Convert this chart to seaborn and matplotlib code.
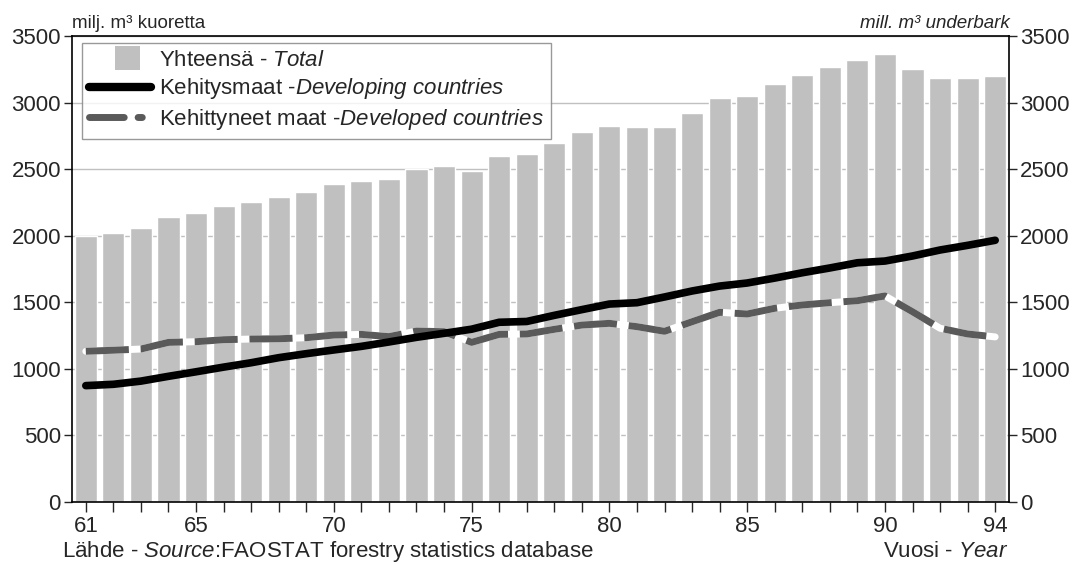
import numpy as np
import pandas as pd
import matplotlib
matplotlib.use("Agg")
import matplotlib.pyplot as plt
from matplotlib.lines import Line2D
from matplotlib.patches import Rectangle
from matplotlib.legend_handler import HandlerPatch
import seaborn as sns

# Data (million m3 underbark)
years = list(range(61, 95))
total = [2000, 2023, 2056, 2138, 2171, 2221, 2253, 2291, 2331, 2388,
         2414, 2424, 2501, 2524, 2486, 2599, 2611, 2694, 2781, 2824,
         2819, 2814, 2924, 3032, 3052, 3140, 3210, 3265, 3320, 3363,
         3252, 3187, 3187, 3200]
developing = [874, 884, 908, 944, 978, 1013, 1046, 1084, 1114, 1142,
              1169, 1202, 1237, 1267, 1298, 1350, 1356, 1402, 1445, 1487,
              1497, 1540, 1585, 1622, 1645, 1682, 1722, 1758, 1797, 1810,
              1848, 1893, 1928, 1966]
developed = [1132, 1140, 1149, 1199, 1204, 1219, 1224, 1226, 1234, 1254,
             1259, 1242, 1284, 1279, 1199, 1259, 1262, 1297, 1329, 1342,
             1317, 1282, 1354, 1425, 1412, 1455, 1480, 1497, 1512, 1548,
             1429, 1305, 1262, 1240]
shown_years = [61, 65, 70, 75, 80, 85, 90, 94]
y_ticks = [0, 500, 1000, 1500, 2000, 2500, 3000, 3500]

df = pd.DataFrame({"year": years, "total": total,
                   "developing": developing, "developed": developed})
df["pos"] = np.arange(len(df))

BAR = "#c0c0c0"
DARK = "#5a5a5a"
FS = 16

sns.set_style("white")
plt.rcParams["font.family"] = ["Liberation Sans", "DejaVu Sans"]
plt.rcParams["mathtext.fontset"] = "custom"
plt.rcParams["mathtext.rm"] = "Liberation Sans"
plt.rcParams["mathtext.it"] = "Liberation Sans:italic"

fig = plt.figure(figsize=(10.72, 5.64), dpi=100)
ax = fig.add_axes([0.0672, 0.110, 0.8740, 0.826])

ax.yaxis.grid(True, color=BAR, linewidth=1.0, zorder=0)
ax.set_axisbelow(True)

sns.barplot(data=df, x="year", y="total", color=BAR, saturation=1,
            width=0.80, ax=ax, zorder=2)

sns.lineplot(data=df, x="pos", y="developing", color="black", linewidth=5.5,
             ax=ax, legend=False, zorder=4)
# white under-line so that the gaps in the dashes show white
sns.lineplot(data=df, x="pos", y="developed", color="white", linewidth=5.0,
             ax=ax, legend=False, zorder=3)
sns.lineplot(data=df, x="pos", y="developed", color=DARK, linewidth=5.0,
             ax=ax, legend=False, zorder=3.5)
ax.lines[-1].set_dashes([6.2, 1.7])
ax.lines[-1].set_dash_capstyle("butt")

ax.set_xlim(-0.5, len(df) - 0.5)
ax.set_ylim(0, 3500)
ax.set_yticks(y_ticks)
ax.set_yticklabels([str(v) for v in y_ticks])
ax.set_xticks(df["pos"])
ax.set_xticklabels([str(y) if y in shown_years else "" for y in years])
ax.set_xlabel("")
ax.set_ylabel("")

for s in ax.spines.values():
    s.set_visible(True)
    s.set_color("black")
    s.set_linewidth(1.2)

ax.tick_params(axis="y", which="both", left=True, right=True, labelright=True,
               direction="out", length=6, width=1, labelsize=FS, pad=2)
ax.tick_params(axis="x", bottom=True, direction="out", length=7, width=1,
               labelsize=FS, pad=3)


# legend: square swatch for the bars, dash-dot look for the developed line
class SquareHandler(HandlerPatch):
    def create_artists(self, legend, orig, xd, yd, w, h, fontsize, trans):
        side = h * 1.6
        p = Rectangle((xd + w * 0.62 - side / 2, yd + h / 2 - side / 2), side, side,
                      facecolor=BAR, edgecolor="none", transform=trans)
        return [p]


h_total = Rectangle((0, 0), 1, 1, facecolor=BAR)
h_dev = Line2D([], [], color="black", linewidth=6, solid_capstyle="round")
h_devd = Line2D([], [], color=DARK, linewidth=5, dashes=[5.0, 2.0, 0.6, 3],
                dash_capstyle="round")
leg = ax.legend([h_total, h_dev, h_devd],
                ["Yhteensä - $\\it{Total}$",
                 "Kehitysmaat -$\\it{Developing\\ countries}$",
                 "Kehittyneet maat -$\\it{Developed\\ countries}$"],
                handler_map={Rectangle: SquareHandler()},
                loc="upper left", bbox_to_anchor=(0.011, 0.985), fontsize=FS,
                frameon=True, fancybox=False, edgecolor="#808080",
                handlelength=2.8, handletextpad=0.35, borderpad=0.3,
                labelspacing=0.25, borderaxespad=0)
leg.get_frame().set_linewidth(1.0)

fig.text(0.067, 0.950, "milj. m³ kuoretta", fontsize=13.5, ha="left", va="baseline")
fig.text(0.942, 0.950, "mill. m³ underbark", fontsize=13.5, style="italic",
         ha="right", va="baseline")
fig.text(0.058, 0.013, "Lähde - $\\it{Source}$:FAOSTAT forestry statistics database",
         fontsize=FS, ha="left", va="baseline")
fig.text(0.940, 0.013, "Vuosi - $\\it{Year}$", fontsize=FS, ha="right", va="baseline")

fig.savefig("out.png", dpi=100)
